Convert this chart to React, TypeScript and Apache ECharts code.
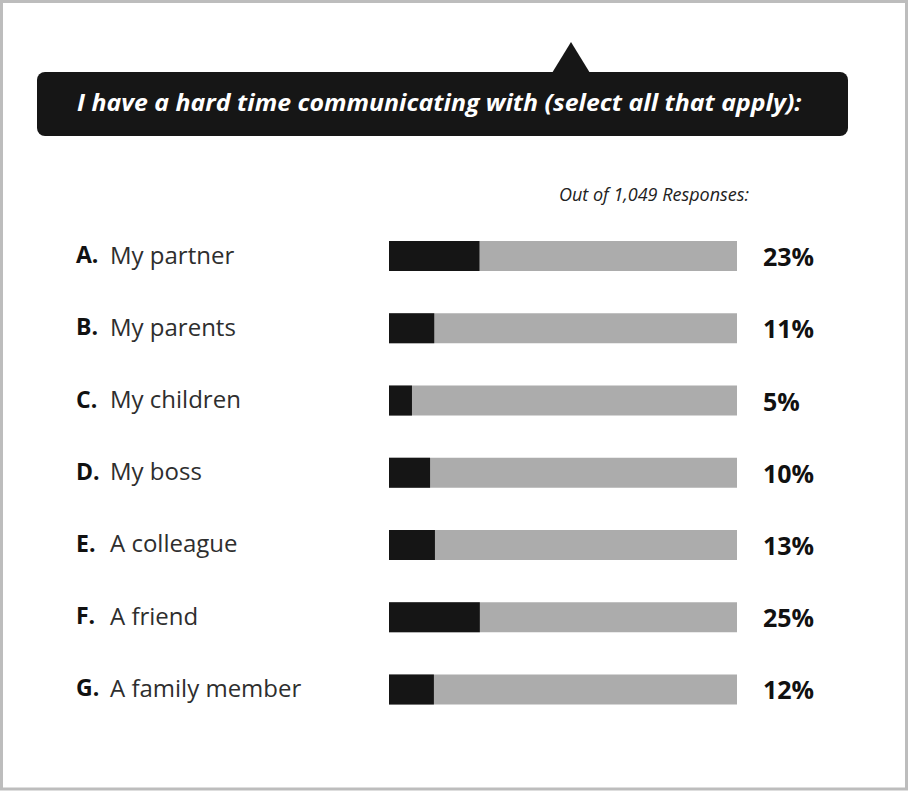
import React, { useEffect, useRef } from "react";
import * as echarts from "echarts";

const titleText = "I have a hard time communicating with (select all that apply):";
const subtitleText = "Out of 1,049 Responses:";
const letters = ["A.", "B.", "C.", "D.", "E.", "F.", "G."];
const categories = [
  "My partner",
  "My parents",
  "My children",
  "My boss",
  "A colleague",
  "A friend",
  "A family member",
];
// Percentages printed at the right of each bar
const responseShares = [23, 11, 5, 10, 13, 25, 12];
// Length of the black part of each bar as drawn, in % of the grey track
const drawnBarValues = [26, 13, 6.6, 11.8, 13.2, 26.1, 12.9];
const trackMax = 100;

const FONT = "'Open Sans', 'Noto Sans', sans-serif";

function measure(text: string, font: string): number {
  const c = document.createElement("canvas");
  const ctx = c.getContext("2d");
  if (!ctx) return 0;
  ctx.font = font;
  return ctx.measureText(text).width;
}

export default function App() {
  const ref = useRef<HTMLDivElement>(null);

  useEffect(() => {
    if (!ref.current) return;
    const chart = echarts.init(ref.current, undefined, { renderer: "svg" });

    const titleW = measure(titleText, `italic bold 24px ${FONT}`) || 725;
    const titleScale = 725 / titleW;

    chart.setOption({
      animation: false,
      backgroundColor: "#ffffff",
      grid: { left: 389, right: 171, top: 220, bottom: 65.5, containLabel: false },
      xAxis: { type: "value", min: 0, max: trackMax, show: false },
      yAxis: [
        {
          type: "category",
          data: categories,
          inverse: true,
          position: "left",
          axisLine: { show: false },
          axisTick: { show: false },
          splitLine: { show: false },
          axisLabel: {
            margin: 313,
            align: "left",
            formatter: (value: string, idx: number) => `{b|${letters[idx]}}{n|${value}}`,
            rich: {
              b: {
                fontFamily: FONT,
                fontWeight: "bold",
                fontSize: 23,
                color: "#111111",
                width: 34,
                padding: [0, 0, 4, 0],
              },
              n: { fontFamily: FONT, fontSize: 24, color: "#2e2e2e", padding: [0, 0, 4, 0] },
            },
          },
        },
        {
          type: "category",
          data: responseShares.map((v) => `${v}%`),
          inverse: true,
          position: "right",
          axisLine: { show: false },
          axisTick: { show: false },
          splitLine: { show: false },
          axisLabel: {
            margin: 26,
            align: "left",
            fontFamily: FONT,
            fontWeight: "bold",
            fontSize: 25,
            color: "#111111",
          },
        },
      ],
      series: [
        {
          type: "bar",
          yAxisIndex: 0,
          data: drawnBarValues,
          barWidth: 30,
          itemStyle: { color: "#151515" },
          showBackground: true,
          backgroundStyle: { color: "#acacac" },
        },
      ],
      graphic: [
        {
          type: "rect",
          shape: { x: 1.5, y: 1.5, width: 905, height: 787.5 },
          style: { fill: "none", stroke: "#bdbdbd", lineWidth: 3 },
          silent: true,
        },
        {
          type: "rect",
          shape: { x: 37, y: 72, width: 811, height: 64, r: 8 },
          style: { fill: "#161616" },
          silent: true,
        },
        {
          type: "polygon",
          shape: { points: [[552, 73], [571, 42], [590, 73]] },
          style: { fill: "#161616" },
          silent: true,
        },
        {
          type: "text",
          x: 77,
          y: 102,
          scaleX: titleScale,
          style: {
            text: titleText,
            fill: "#ffffff",
            fontFamily: FONT,
            fontWeight: "bold",
            fontStyle: "italic",
            fontSize: 24,
            align: "left",
            verticalAlign: "middle",
          },
          silent: true,
        },
        {
          type: "text",
          x: 559,
          y: 194,
          style: {
            text: subtitleText,
            fill: "#222222",
            fontFamily: FONT,
            fontStyle: "italic",
            fontSize: 18,
            align: "left",
            verticalAlign: "middle",
          },
          silent: true,
        },
      ],
    });

    return () => chart.dispose();
  }, []);

  return (
    <div
      ref={ref}
      style={{ position: "absolute", left: 0, top: 0, width: 908, height: 791, background: "#ffffff" }}
    />
  );
}
